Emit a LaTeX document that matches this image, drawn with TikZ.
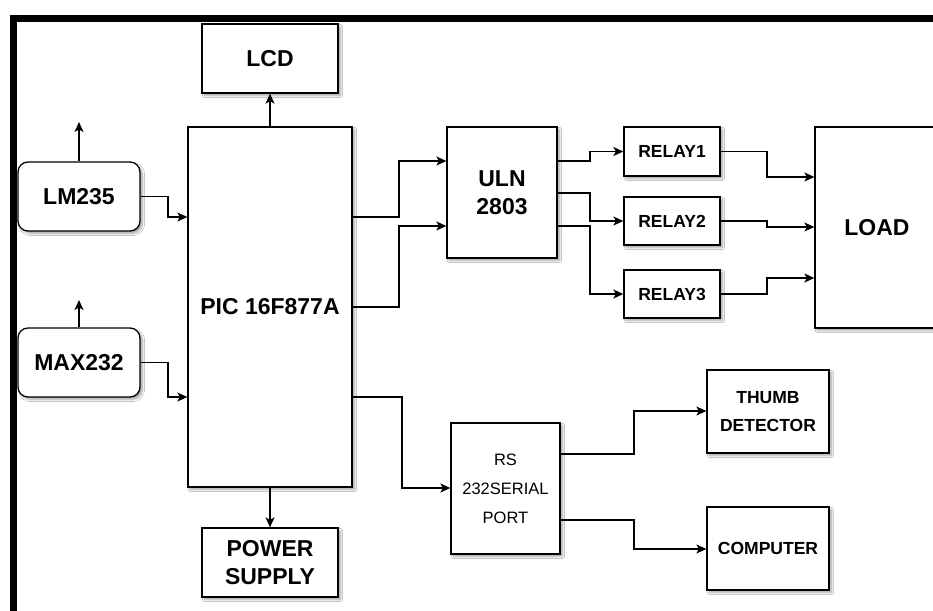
\documentclass[tikz,border=0pt]{standalone}
\usepackage{fontspec}
\setmainfont{Liberation Sans}
\usetikzlibrary{arrows.meta,shadows.blur}
\tikzset{
  blk/.style={draw=black, line width=1.3pt, fill=white, inner sep=0pt, align=center,
    blur shadow={shadow xshift=2.5pt, shadow yshift=-2.5pt, shadow blur steps=6, shadow opacity=35}},
  big/.style={font=\fontsize{23}{28}\selectfont\bfseries},
  mid/.style={font=\fontsize{17.5}{27.5}\selectfont\bfseries},
  sml/.style={font=\fontsize{16.5}{29}\selectfont},
  arr/.style={line width=1.3pt, -{Stealth[length=10pt,width=9pt,inset=2.5pt]}},
}
\begin{document}
\begin{tikzpicture}[x=1pt,y=-1pt]
\clip (0,0) rectangle (933,610);
\fill[white] (0,0) rectangle (933,610);
% frame
\draw[line width=7pt, black] (13,620) -- (13,18.5) -- (940,18.5);

% nodes
\node[blk,big,minimum width=136pt,minimum height=69pt] (lcd) at (270,58.5) {LCD};
\node[blk,big,minimum width=164pt,minimum height=360pt] (pic) at (270,307) {PIC 16F877A};
\node[blk,big,rounded corners=10pt,minimum width=122pt,minimum height=69pt] (lm) at (79,196.5) {LM235};
\node[blk,big,rounded corners=10pt,minimum width=122pt,minimum height=69pt] (max) at (79,362.5) {MAX232};
\node[blk,big,minimum width=136pt,minimum height=69pt] (ps) at (270,562.5) {POWER\\SUPPLY};
\node[blk,big,minimum width=110pt,minimum height=131pt] (uln) at (502,192.5) {ULN\\2803};
\node[blk,mid,minimum width=96pt,minimum height=49pt] (r1) at (672,151.5) {RELAY1};
\node[blk,mid,minimum width=96pt,minimum height=48pt] (r2) at (672,221) {RELAY2};
\node[blk,mid,minimum width=96pt,minimum height=48pt] (r3) at (672,294) {RELAY3};
\node[blk,big,minimum width=124pt,minimum height=201pt] (load) at (877,227.5) {LOAD};
\node[blk,sml,minimum width=109pt,minimum height=131pt] (rs) at (505.5,488.5) {RS\\232SERIAL\\PORT};
\node[blk,mid,minimum width=122pt,minimum height=83pt] (thumb) at (768,411.5) {THUMB\\DETECTOR};
\node[blk,mid,minimum width=122pt,minimum height=83pt] (comp) at (768,548.5) {COMPUTER};

\coordinate (lmup) at (79,122);
\coordinate (maxup) at (79,300);

% connectors
\draw[arr] (pic.north) -- (lcd.south);
\draw[arr] (pic.south) -- (ps.north);
\draw[arr] (lm.north) -- (lmup);
\draw[arr] (max.north) -- (maxup);
\draw[arr] (lm.east) -- (168,196.5) -- (168,217) -- (pic.west |- 168,217);
\draw[arr] (max.east) -- (168,362.5) -- (168,397) -- (pic.west |- 168,397);

\draw[arr] (pic.east |- 352,217) -- (399,217) -- (399,161) -- (uln.west |- 399,161);
\draw[arr] (pic.east |- 352,307) -- (399,307) -- (399,226) -- (uln.west |- 399,226);

\draw[arr] (uln.east |- 557,161) -- (590,161) -- (590,151.5) -- (r1.west);
\draw[arr] (uln.east |- 557,193) -- (590,193) -- (590,221) -- (r2.west);
\draw[arr] (uln.east |- 557,226) -- (590,226) -- (590,294) -- (r3.west);

\draw[arr] (r1.east) -- (767,151.5) -- (767,177) -- (load.west |- 767,177);
\draw[arr] (r2.east) -- (767,221) -- (767,227) -- (load.west |- 767,227);
\draw[arr] (r3.east) -- (767,294) -- (767,278) -- (load.west |- 767,278);

\draw[arr] (pic.east |- 352,397) -- (402,397) -- (402,488) -- (rs.west |- 402,488);
\draw[arr] (rs.east |- 560,454) -- (634,454) -- (634,411) -- (thumb.west |- 634,411);
\draw[arr] (rs.east |- 560,520) -- (634,520) -- (634,549) -- (comp.west |- 634,549);
\end{tikzpicture}
\end{document}
